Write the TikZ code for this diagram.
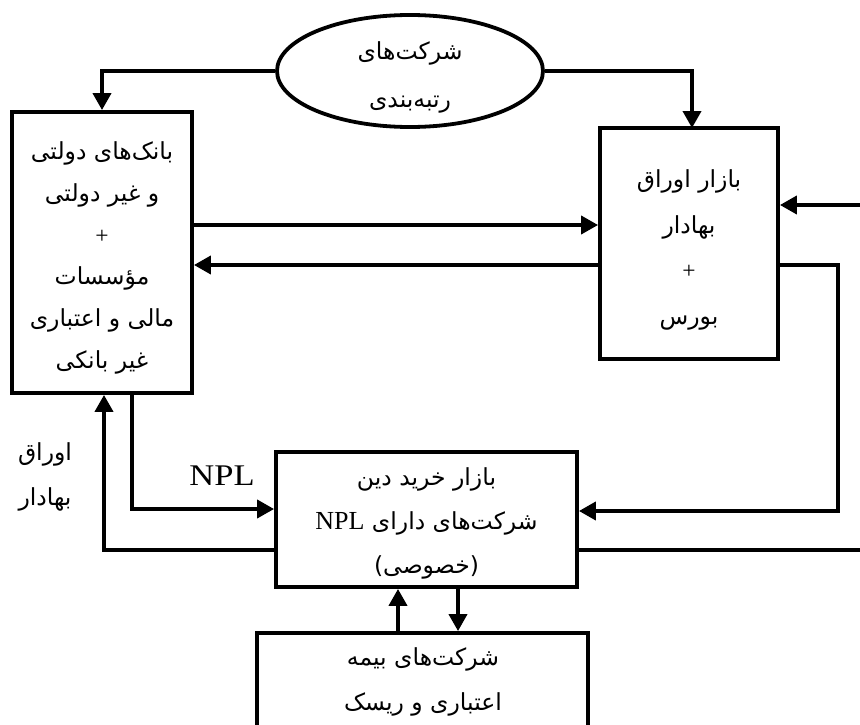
\documentclass[tikz,border=0pt]{standalone}
\usepackage{fontspec}
\setmainfont{Liberation Serif}
\newfontfamily\arabicfont[Script=Arabic]{DejaVu Sans}
\TeXXeTstate=1
\usetikzlibrary{arrows.meta,shapes.geometric}
\newcommand{\fa}[1]{{\arabicfont\beginR #1\endR}}
\begin{document}
\begin{tikzpicture}[x=1pt,y=-1pt,
  conn/.style={line width=3.8pt},
  arr/.style={line width=3.8pt,-{Triangle[length=17pt,width=18pt]}},
  boxnode/.style={draw,line width=3.8pt,rectangle,inner sep=0pt},
  txt/.style={inner sep=0pt,align=center,font=\fontsize{23.5pt}{43pt}\selectfont}]
\useasboundingbox (0,0) rectangle (860,725);
% shapes
\node[draw,line width=3.8pt,ellipse,minimum width=266pt,minimum height=112pt,inner sep=0pt] (rat) at (410,71) {};
\node[boxnode,minimum width=180pt,minimum height=281pt] (bank) at (102,252.5) {};
\node[boxnode,minimum width=178pt,minimum height=231pt] (bors) at (689,243.5) {};
\node[boxnode,minimum width=301pt,minimum height=135pt] (npl) at (426.5,519.5) {};
\node[boxnode,minimum width=331pt,minimum height=140pt] (ins) at (422.5,703) {};
% texts
\node[txt,font=\fontsize{23.5pt}{48pt}\selectfont] (rattxt) at (410,77) {\fa{شرکت‌های}\\\fa{رتبه‌بندی}};
\node[txt,font=\fontsize{23.5pt}{41.8pt}\selectfont] (banktxt) at (102,258) {\fa{بانک‌های دولتی}\\\fa{و غیر دولتی}\\+\\\fa{مؤسسات}\\\fa{مالی و اعتباری}\\\fa{غیر بانکی}};
\node[txt,font=\fontsize{23.5pt}{45.5pt}\selectfont] (borstxt) at (689,250) {\fa{بازار اوراق}\\\fa{بهادار}\\+\\\fa{بورس}};
\node[txt,font=\fontsize{23.5pt}{44pt}\selectfont] (npltxt) at (426.5,523) {\fa{بازار خرید دین}\\{\arabicfont\beginR شرکت‌های دارای \beginL{\rmfamily\fontsize{26pt}{26pt}\selectfont NPL}\endL\endR}\\\fa{(خصوصی)}};
\node[txt,font=\fontsize{23.5pt}{45pt}\selectfont] (instxt) at (423,682) {\fa{شرکت‌های بیمه}\\\fa{اعتباری و ریسک}};
\node[inner sep=0pt,font=\fontsize{30pt}{30pt}\selectfont,xscale=1.15] (npllbl) at (222,476) {NPL};
\node[txt,font=\fontsize{23.5pt}{45pt}\selectfont] (oraq) at (45,477) {\fa{اوراق}\\\fa{بهادار}};
% coordinates
\coordinate (eR) at (860,205);
\coordinate (eL) at (860,550);
% connectors
\draw[arr] (rat.west) -| (bank.north -| 102,0);
\draw[arr] (rat.east) -| (692,128);
\draw[arr] (bank.east |- 0,225) -- (bors.west |- 0,225);
\draw[arr] (bors.west |- 0,265) -- (bank.east |- 0,265);
\draw[arr] (eR) -- (bors.east |- eR);
\draw[arr] (bors.east |- 0,265) -| (838,511) -- (npl.east |- 0,511);
\draw[conn] (npl.east |- eL) -- (eL);
\draw[arr] (bank.south -| 132,0) |- (npl.west |- 0,509);
\draw[arr] (npl.west |- 0,550) -| (bank.south -| 104,0);
\draw[arr] (ins.north -| 398,0) -- (npl.south -| 398,0);
\draw[arr] (npl.south -| 458,0) -- (ins.north -| 458,0);
\end{tikzpicture}
\end{document}
